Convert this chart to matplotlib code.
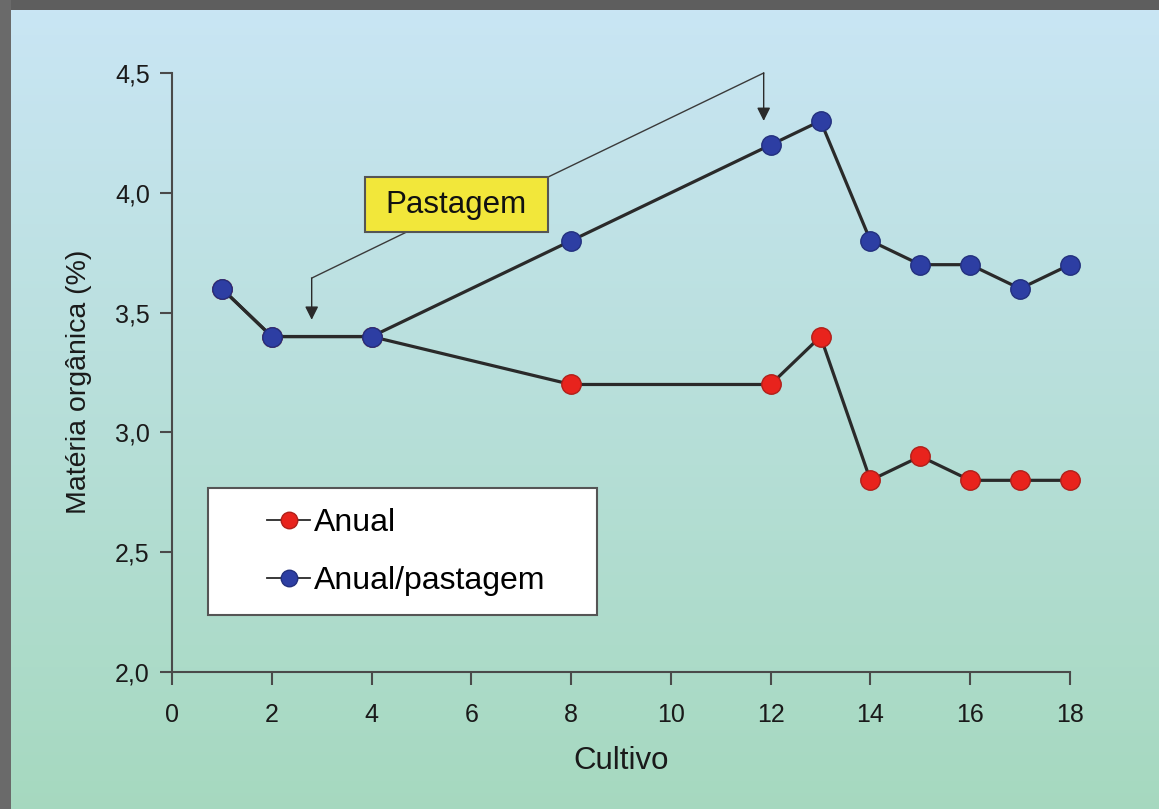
import matplotlib

matplotlib.use("Agg")
import matplotlib.pyplot as plt
import numpy as np
from matplotlib.patches import Rectangle

plt.rcParams["font.family"] = ["Liberation Sans", "DejaVu Sans"]

# data
cultivo = [1, 2, 4, 8, 12, 13, 14, 15, 16, 17, 18]
anual = [3.6, 3.4, 3.4, 3.2, 3.2, 3.4, 2.8, 2.9, 2.8, 2.8, 2.8]
anual_pastagem = [3.6, 3.4, 3.4, 3.8, 4.2, 4.3, 3.8, 3.7, 3.7, 3.6, 3.7]
xticks = list(range(0, 19, 2))
yticks = [2.0, 2.5, 3.0, 3.5, 4.0, 4.5]
ytick_labels = ["2,0", "2,5", "3,0", "3,5", "4,0", "4,5"]

fig = plt.figure(figsize=(11.59, 8.09), dpi=100)

# gradient background, light blue at top to light green at bottom
bg = fig.add_axes([0, 0, 1, 1], zorder=-2)
top = np.array([0.79, 0.90, 0.96])
bottom = np.array([0.65, 0.85, 0.75])
t = np.linspace(0, 1, 256)[:, None]
grad = top * (1 - t) + bottom * t
bg.imshow(grad[:, None, :], aspect="auto", extent=[0, 1, 0, 1])
bg.set_xlim(0, 1)
bg.set_ylim(0, 1)
bg.axis("off")
# dark frame along top and left
bg.add_patch(Rectangle((0, 1 - 10 / 809), 1, 10 / 809, color="#5e5e5e", lw=0))
bg.add_patch(Rectangle((0, 0), 11 / 1159, 1, color="#6a6a6a", lw=0))

ax = fig.add_axes([172 / 1159, 137 / 809, 898 / 1159, 599 / 809])
ax.set_facecolor("none")

line_kw = dict(color="#2a2a2a", lw=2.3, marker="o", markersize=14,
               markeredgewidth=1.0, clip_on=False)
ax.plot(cultivo, anual, markerfacecolor="#e8231d", markeredgecolor="#b0201a",
        label="Anual", **line_kw)
ax.plot(cultivo, anual_pastagem, markerfacecolor="#2d3ea3",
        markeredgecolor="#23307e", label="Anual/pastagem", **line_kw)

ax.set_xlim(0, 18)
ax.set_ylim(2.0, 4.5)
ax.set_xticks(xticks)
ax.set_yticks(yticks)
ax.set_yticklabels(ytick_labels)
for side in ("top", "right"):
    ax.spines[side].set_visible(False)
for side in ("left", "bottom"):
    ax.spines[side].set_color("#4a4a4a")
    ax.spines[side].set_linewidth(1.5)
ax.tick_params(direction="out", length=9, width=1.5, color="#4a4a4a",
               labelsize=18, labelcolor="#1a1a1a", pad=7)
ax.tick_params(axis="x", pad=13)
ax.set_xlabel("Cultivo", fontsize=22.5, color="#1a1a1a", labelpad=14)
ax.set_ylabel("Matéria orgânica (%)", fontsize=20.5, color="#1a1a1a")
ax.yaxis.set_label_coords(-0.089, 0.485)

# "Pastagem" callout with two arrows
ax.add_patch(Rectangle((3.87, 3.836), 7.54 - 3.87, 4.066 - 3.836,
                       facecolor="#f2e73a", edgecolor="#555555", lw=1.5,
                       zorder=4))
ax.text(5.70, 3.951, "Pastagem", fontsize=22.5, ha="center", va="center",
        color="#111111", zorder=5)
ax.plot([7.54, 11.86], [4.066, 4.5], color="#3a3a3a", lw=1.0, clip_on=False)
ax.annotate("", xy=(11.86, 4.30), xytext=(11.86, 4.5),
            arrowprops=dict(arrowstyle="-|>", color="#2a2a2a", lw=1.0,
                            mutation_scale=20, shrinkA=0, shrinkB=0),
            annotation_clip=False)
ax.plot([4.7, 2.8], [3.836, 3.644], color="#3a3a3a", lw=1.0)
ax.annotate("", xy=(2.8, 3.47), xytext=(2.8, 3.644),
            arrowprops=dict(arrowstyle="-|>", color="#2a2a2a", lw=1.0,
                            mutation_scale=20, shrinkA=0, shrinkB=0))

# legend: separate white frame, frameless legend inside it
ax.add_patch(Rectangle((0.040, 0.095), 0.433, 0.212, transform=ax.transAxes,
                       facecolor="white", edgecolor="#555555", lw=1.5,
                       zorder=4))
leg = ax.legend(loc="upper left", bbox_to_anchor=(0.106, 0.274),
                fontsize=23, handlelength=1.35, handletextpad=0.12,
                borderpad=0, labelspacing=0.88, frameon=False,
                borderaxespad=0, markerscale=0.85)
leg.set_zorder(6)
for h in leg.legend_handles:
    h.set_linewidth(1.3)

fig.savefig("out.png", dpi=100)
